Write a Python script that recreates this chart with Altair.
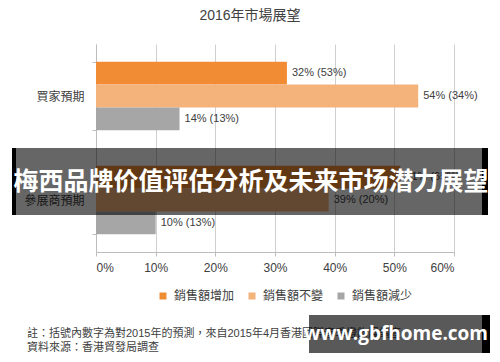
import altair as alt
import pandas as pd

groups = ["買家預期", "參展商預期"]
series = ["銷售額增加", "銷售額不變", "銷售額減少"]
colors = ["#F28C34", "#F5B37C", "#A6A6A6"]
vals_2016 = {"買家預期": [32, 54, 14], "參展商預期": [51, 39, 10]}
vals_2015 = {"買家預期": [53, 34, 13], "參展商預期": [65, 20, 13]}
x_ticks = [0, 10, 20, 30, 40, 50, 60]

title_text = "2016年市場展望"
note_lines = [
    "註：括號內數字為對2015年的預測，來自2015年4月香港國際春季燈飾展調查",
    "資料來源：香港貿發局調查",
]
banner_text = "梅西品牌价值评估分析及未来市场潜力展望"
watermark_text = "www.gbfhome.com"

rows = []
for g in groups:
    for s, v, p in zip(series, vals_2016[g], vals_2015[g]):
        rows.append({"group": g, "series": s, "value": v, "label": f"{v}% ({p}%)"})
df = pd.DataFrame(rows)

FONT = "Liberation Sans, Noto Sans CJK TC, sans-serif"
TXT = "#404040"

base = alt.Chart(df)

bars = base.mark_bar().encode(
    x=alt.X("value:Q", scale=alt.Scale(domain=[0, 60], nice=False),
            axis=alt.Axis(values=x_ticks, labelExpr="datum.value + '%'", title=None,
                          grid=True, gridColor="#CFCFCF", domainColor="#BDBDBD",
                          tickColor="#BDBDBD", tickSize=4, labelFontSize=12,
                          labelColor=TXT, labelFont=FONT, labelPadding=6)),
    y=alt.Y("group:N", sort=groups,
            scale=alt.Scale(paddingInner=0.34, paddingOuter=0.17),
            axis=alt.Axis(title=None, tickBand="extent", tickSize=4, tickColor="#BDBDBD",
                          domainColor="#BDBDBD", labelFontSize=12, labelColor=TXT,
                          labelFont=FONT, labelPadding=8)),
    yOffset=alt.YOffset("series:N", sort=series, scale=alt.Scale(paddingInner=0)),
    color=alt.Color("series:N", sort=series,
                    scale=alt.Scale(domain=series, range=colors),
                    legend=alt.Legend(title=None, orient="none", direction="horizontal",
                                      legendX=61, legendY=246, symbolType="square",
                                      symbolSize=49, symbolStrokeWidth=0,
                                      labelFontSize=12, labelColor=TXT, labelFont=FONT,
                                      columnPadding=11, labelOffset=5)),
)

labels = base.mark_text(align="left", baseline="middle", dx=5, fontSize=11,
                        color=TXT, font=FONT).encode(
    x="value:Q",
    y=alt.Y("group:N", sort=groups),
    yOffset=alt.YOffset("series:N", sort=series),
    text="label:N",
)

title = alt.Chart(alt.Data(values=[{"t": title_text}])).mark_text(
    fontSize=14, color=TXT, font=FONT, align="center", baseline="middle"
).encode(x=alt.value(154), y=alt.value(-28), text="t:N")

notes = alt.Chart(alt.Data(values=[{"t": note_lines[0], "yy": 290},
                                   {"t": note_lines[1], "yy": 304}])).mark_text(
    fontSize=11, color=TXT, font=FONT, align="left", baseline="middle"
).encode(x=alt.value(-69), y=alt.Y("yy:Q", scale=None), text="t:N")

banner_bg = alt.Chart(alt.Data(values=[{"a": 1}])).mark_rect(
    color="#000000", opacity=0.6
).encode(x=alt.value(-80), x2=alt.value(386), y=alt.value(104), y2=alt.value(171))

banner_edges = alt.Chart(alt.Data(values=[{"x0": -84, "x1": -80}, {"x0": 386, "x1": 392}])).mark_rect(
    color="#000000"
).encode(x=alt.X("x0:Q", scale=None), x2="x1:Q", y=alt.value(104), y2=alt.value(171))

banner_txt = alt.Chart(alt.Data(values=[{"t": banner_text}])).mark_text(
    fontSize=25, fontWeight="bold", color="white", font="Noto Sans CJK SC",
    align="center", baseline="middle"
).encode(x=alt.value(155), y=alt.value(138), text="t:N")

wm_bg = alt.Chart(alt.Data(values=[{"a": 1}])).mark_rect(
    color="#000000", opacity=0.65
).encode(x=alt.value(213), x2=alt.value(386), y=alt.value(271), y2=alt.value(309))

wm_edge = alt.Chart(alt.Data(values=[{"a": 1}])).mark_rect(
    color="#000000"
).encode(x=alt.value(386), x2=alt.value(394), y=alt.value(271), y2=alt.value(309))

wm_txt = alt.Chart(alt.Data(values=[{"t": watermark_text}])).mark_text(
    fontSize=19, fontWeight="bold", color="white", font="Open Sans",
    align="center", baseline="middle"
).encode(x=alt.value(300), y=alt.value(290), text="t:N")

chart = alt.layer(
    bars, labels, title, notes, banner_bg, banner_edges, banner_txt, wm_bg, wm_edge, wm_txt
).properties(
    width=358, height=208,
    padding={"left": 88, "top": 36, "right": 38, "bottom": 102},
    autosize=alt.AutoSizeParams(type="none"),
    background="white",
).configure_view(stroke=None)

chart.save("out.html", embed_options={"renderer": "svg", "actions": False})
